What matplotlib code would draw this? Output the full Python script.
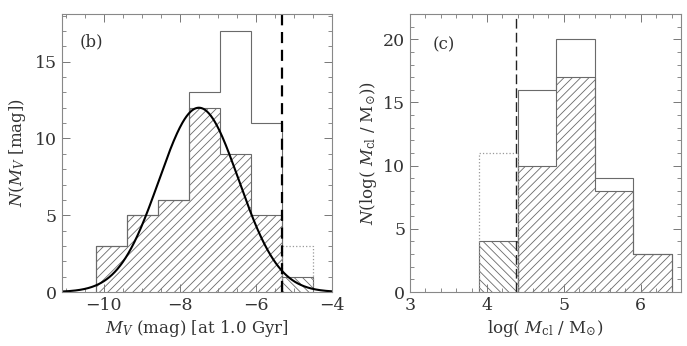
import numpy as np
import matplotlib
matplotlib.use("Agg")
import matplotlib.pyplot as plt
from matplotlib.ticker import MultipleLocator

# ---- data: panel (b) ----
mv_edges = [-10.2, -9.39, -8.57, -7.76, -6.94, -6.13, -5.31, -4.5]
mv_hatched = [3, 5, 6, 12, 9, 5]          # bins left of the limit
mv_hatched_faint = [1]                     # bin right of the limit
mv_total = [3, 5, 6, 13, 17, 11]
mv_total_faint = [3]
mv_limit = -5.31
gauss_peak = 12.0
gauss_mean = -7.5
gauss_sigma = 1.05

# ---- data: panel (c) ----
m_edges = [3.9, 4.4, 4.9, 5.4, 5.9, 6.4]
m_hatched_faint = [4]
m_hatched = [10, 17, 8, 3]
m_total = [16, 20, 9, 3]
m_total_faint = [11]
m_limit = 4.38

plt.rcParams['font.family'] = ['DejaVu Serif']
plt.rcParams['mathtext.fontset'] = 'dejavuserif'
plt.rcParams['hatch.linewidth'] = 0.6

txt = '#333333'
gray = '#6a6a6a'

fig = plt.figure(figsize=(6.87, 3.46), dpi=100)
axL = fig.add_axes([0.0902, 0.156, 0.3931, 0.8035])
axR = fig.add_axes([0.5968, 0.156, 0.3942, 0.8035])

def style(ax):
    for s in ax.spines.values():
        s.set_color('#888888')
        s.set_linewidth(0.8)
    ax.tick_params(which='both', direction='in', top=True, right=True,
                   colors='#777777', labelcolor=txt, labelsize=12.5)
    ax.tick_params(which='major', length=6, width=0.7)
    ax.tick_params(which='minor', length=3, width=0.6)

# ---- left panel ----
e = np.array(mv_edges)
axL.stairs(mv_hatched, e[:7], fill=True, facecolor='none', edgecolor=gray,
           hatch='////', linewidth=0.8)
axL.stairs(mv_hatched_faint, e[6:], fill=True, facecolor='none', edgecolor=gray,
           hatch='\\\\\\\\', linewidth=0.8)
axL.stairs(mv_total, e[:7], fill=False, edgecolor=gray, linewidth=0.8)
axL.stairs(mv_total_faint, e[6:], fill=False, edgecolor='#999999',
           linewidth=0.9, linestyle=':')
xx = np.linspace(-11.1, -4, 400)
axL.plot(xx, gauss_peak * np.exp(-0.5 * ((xx - gauss_mean) / gauss_sigma) ** 2),
         color='black', linewidth=1.5)
axL.axvline(mv_limit, color='black', linewidth=1.6, linestyle=(0, (5, 3)))
axL.set_xlim(-11.1, -4)
axL.set_ylim(0, 18.1)
axL.xaxis.set_major_locator(MultipleLocator(2))
axL.xaxis.set_minor_locator(MultipleLocator(0.5))
axL.yaxis.set_major_locator(MultipleLocator(5))
axL.yaxis.set_minor_locator(MultipleLocator(1))
style(axL)
axL.set_xlabel(r'$M_V$ (mag) [at 1.0 Gyr]', fontsize=12, color=txt, labelpad=3)
axL.set_ylabel(r'$N(M_V$ [mag]$)$', fontsize=12, color=txt, labelpad=5)
axL.text(0.11, 0.9, '(b)', transform=axL.transAxes, fontsize=12, color=txt,
         ha='center', va='center')

# ---- right panel ----
m = np.array(m_edges)
axR.stairs(m_hatched_faint, m[:2], fill=True, facecolor='none', edgecolor=gray,
           hatch='\\\\\\\\', linewidth=0.8)
axR.stairs(m_hatched, m[1:], fill=True, facecolor='none', edgecolor=gray,
           hatch='////', linewidth=0.8)
axR.stairs(m_total, m[1:], fill=False, edgecolor=gray, linewidth=0.8)
axR.stairs(m_total_faint, m[:2], fill=False, edgecolor='#999999',
           linewidth=0.9, linestyle=':')
axR.axvline(m_limit, color='#222222', linewidth=1.0, linestyle=(0, (7, 3)))
axR.set_xlim(3, 6.52)
axR.set_ylim(0, 22)
axR.xaxis.set_major_locator(MultipleLocator(1))
axR.xaxis.set_minor_locator(MultipleLocator(0.2))
axR.yaxis.set_major_locator(MultipleLocator(5))
axR.yaxis.set_minor_locator(MultipleLocator(1))
style(axR)
axR.set_xlabel(r'log( $M_{\rm cl}$ / M$_{\odot}$)', fontsize=12, color=txt, labelpad=3)
axR.set_ylabel(r'$N$(log( $M_{\rm cl}$ / M$_{\odot}$))', fontsize=12, color=txt, labelpad=3)
axR.text(0.125, 0.89, '(c)', transform=axR.transAxes, fontsize=12, color=txt,
         ha='center', va='center')

fig.savefig('out.png', dpi=100)
